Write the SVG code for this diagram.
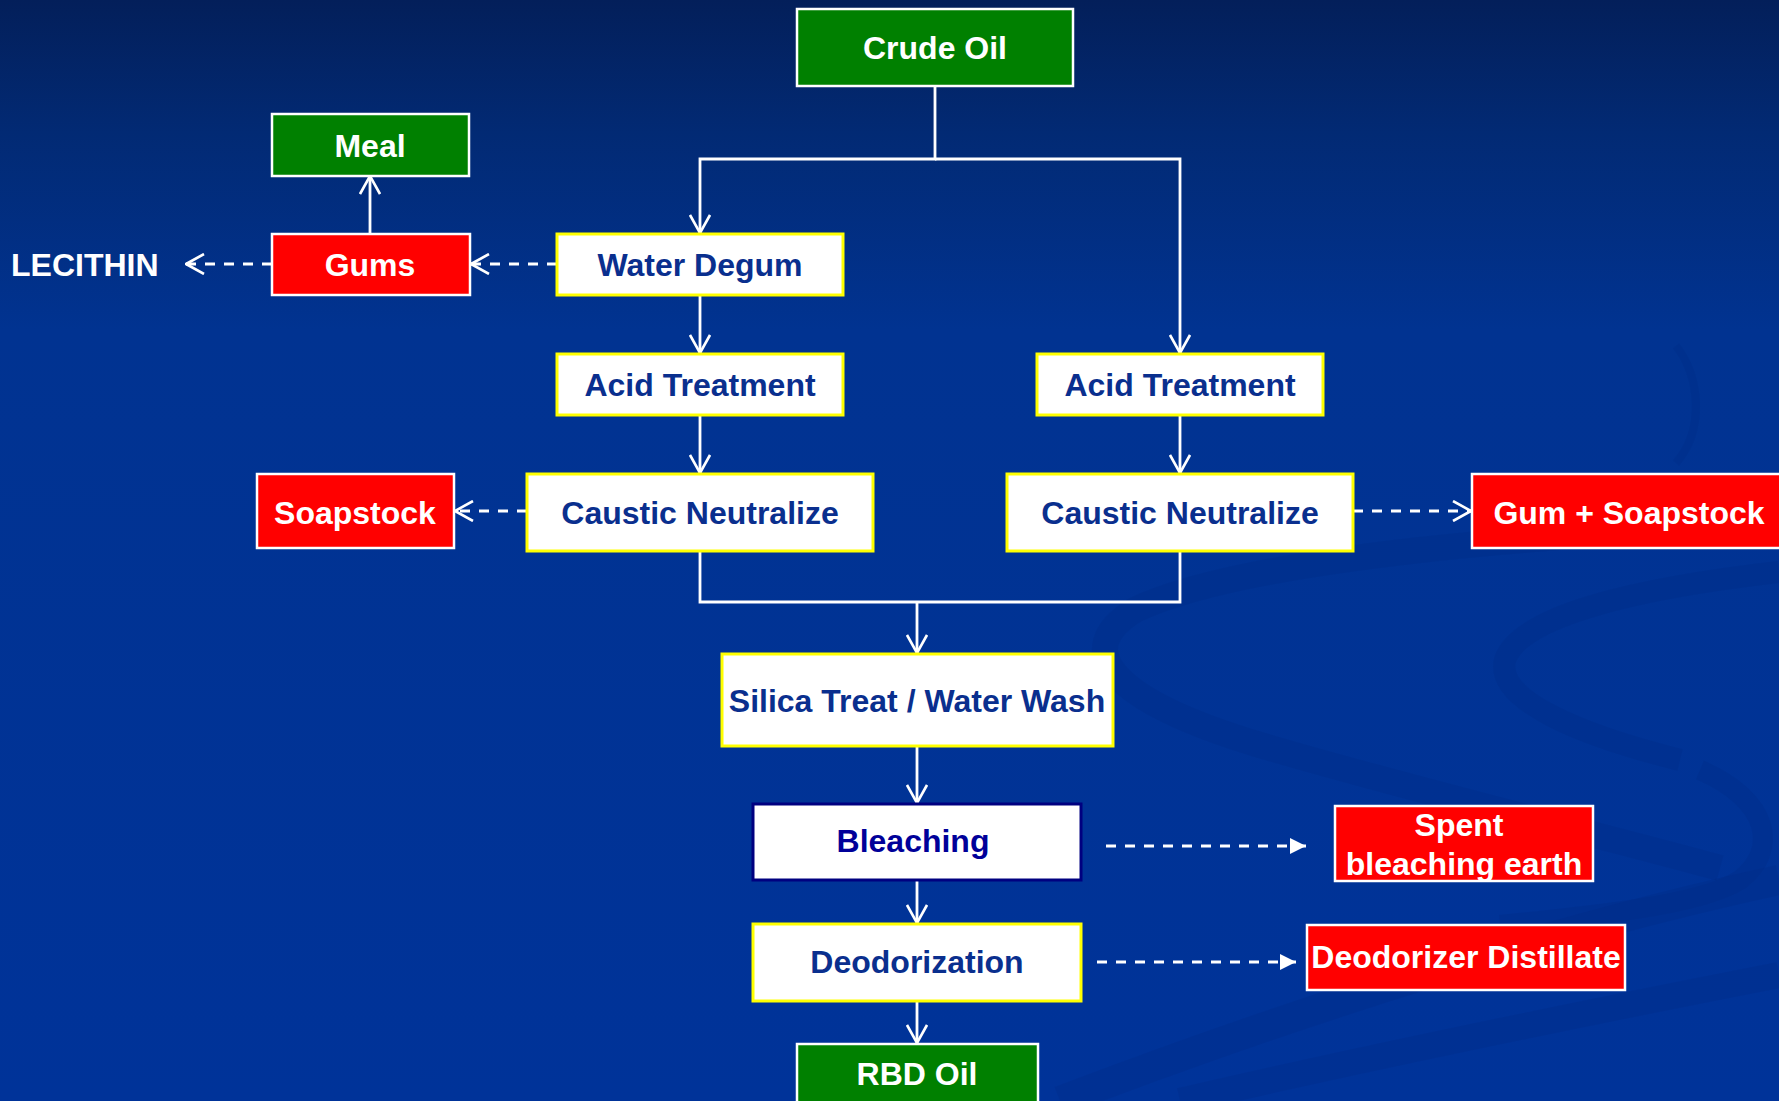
<svg xmlns="http://www.w3.org/2000/svg" width="1779" height="1101" viewBox="0 0 1779 1101">
<defs>
<linearGradient id="bg" x1="0" y1="0" x2="0" y2="1101" gradientUnits="userSpaceOnUse">
<stop offset="0" stop-color="#031f5a"/>
<stop offset="0.12" stop-color="#022a74"/>
<stop offset="0.3" stop-color="#013391"/>
<stop offset="1" stop-color="#003399"/>
</linearGradient>
<marker id="open" viewBox="0 0 20 22" refX="19" refY="11" markerWidth="20" markerHeight="22" markerUnits="userSpaceOnUse" orient="auto">
<path d="M1,1 L19,11 L1,21" fill="none" stroke="#ffffff" stroke-width="2.6"/>
</marker>
<marker id="tri" viewBox="0 0 16 16" refX="16" refY="8" markerWidth="16" markerHeight="16" markerUnits="userSpaceOnUse" orient="auto">
<path d="M0,0 L16,8 L0,16 z" fill="#ffffff"/>
</marker>
<style>
.t{font-family:"Liberation Sans",Arial,Helvetica,sans-serif;font-weight:bold;font-size:32px;text-anchor:middle}
.w{fill:#ffffff}
.b{fill:#0a2f8e}
.g{fill:#008000;stroke:#ffffff;stroke-width:2.5}
.r{fill:#ff0000;stroke:#ffffff;stroke-width:2.5}
.y{fill:#ffffff;stroke:#ffff00;stroke-width:3}
.c{fill:none;stroke:#ffffff;stroke-width:2.8}
.d{fill:none;stroke:#ffffff;stroke-width:2.8;stroke-dasharray:10 9}
.sw{fill:none;stroke:#00287e;stroke-opacity:0.22}
</style>
</defs>
<rect x="0" y="0" width="1779" height="1101" fill="url(#bg)"/>
<g id="swirls">
<path class="sw" stroke-width="26" d="M1779,522 C1560,535 1250,555 1135,610 C1070,650 1110,700 1260,745 C1420,792 1600,835 1720,868"/>
<path class="sw" stroke-width="22" d="M1779,572 C1640,588 1520,615 1505,660 C1495,700 1580,735 1680,760"/>
<path class="sw" stroke-width="20" d="M1700,770 C1770,800 1779,850 1740,880 C1700,905 1600,915 1500,925"/>
<path class="sw" stroke-width="30" d="M1060,1101 C1300,1010 1550,930 1779,880"/>
<path class="sw" stroke-width="26" d="M1180,1101 C1400,1050 1600,1010 1779,975"/>
<path class="sw" stroke-width="8" d="M1676,346 C1700,375 1705,430 1676,463"/>
</g>
<g id="connectors">
<path class="c" d="M935,86 V159 H700 V233" marker-end="url(#open)"/>
<path class="c" d="M935,159 H1180 V353" marker-end="url(#open)"/>
<path class="c" d="M700,295 V353" marker-end="url(#open)"/>
<path class="c" d="M700,415 V473" marker-end="url(#open)"/>
<path class="c" d="M1180,415 V473" marker-end="url(#open)"/>
<path class="c" d="M700,551 V602 H1180 V551"/>
<path class="c" d="M917,602 V653" marker-end="url(#open)"/>
<path class="c" d="M917,746 V803" marker-end="url(#open)"/>
<path class="c" d="M917,880 V923" marker-end="url(#open)"/>
<path class="c" d="M917,1001 V1043" marker-end="url(#open)"/>
<path class="c" d="M370,234 V176" marker-end="url(#open)"/>
<path class="d" d="M557,264 H471" marker-end="url(#open)"/>
<path class="d" d="M272,264 H186" marker-end="url(#open)"/>
<path class="d" d="M527,511 H455" marker-end="url(#open)"/>
<path class="d" d="M1353,511 H1471" marker-end="url(#open)"/>
<path class="d" d="M1106,846 H1306" marker-end="url(#tri)"/>
<path class="d" d="M1097,962 H1296" marker-end="url(#tri)"/>
</g>
<g id="crude-oil"><rect class="g" x="797" y="9" width="276" height="77"/><text class="t w" x="935" y="59">Crude Oil</text></g>
<g id="meal"><rect class="g" x="272" y="114" width="197" height="62"/><text class="t w" x="370" y="157">Meal</text></g>
<g id="gums"><rect class="r" x="272" y="234" width="198" height="61"/><text class="t w" x="370" y="276">Gums</text></g>
<g id="lecithin"><text class="t w" x="11" y="276" style="text-anchor:start">LECITHIN</text></g>
<g id="water-degum"><rect class="y" x="557" y="234" width="286" height="61"/><text class="t b" x="700" y="276">Water Degum</text></g>
<g id="acid-left"><rect class="y" x="557" y="354" width="286" height="61"/><text class="t b" x="700" y="396">Acid Treatment</text></g>
<g id="acid-right"><rect class="y" x="1037" y="354" width="286" height="61"/><text class="t b" x="1180" y="396">Acid Treatment</text></g>
<g id="caustic-left"><rect class="y" x="527" y="474" width="346" height="77"/><text class="t b" x="700" y="524">Caustic Neutralize</text></g>
<g id="caustic-right"><rect class="y" x="1007" y="474" width="346" height="77"/><text class="t b" x="1180" y="524">Caustic Neutralize</text></g>
<g id="soapstock"><rect class="r" x="257" y="474" width="197" height="74"/><text class="t w" x="355" y="524">Soapstock</text></g>
<g id="gum-soapstock"><rect class="r" x="1472" y="474" width="320" height="74"/><text class="t w" x="1629" y="524">Gum + Soapstock</text></g>
<g id="silica"><rect class="y" x="722" y="654" width="391" height="92"/><text class="t b" x="917" y="712">Silica Treat / Water Wash</text></g>
<g id="bleaching"><rect x="753" y="804" width="328" height="76" fill="#ffffff" stroke="#000080" stroke-width="3"/><text class="t" x="913" y="852" fill="#000099">Bleaching</text></g>
<g id="deodorization"><rect class="y" x="753" y="924" width="328" height="77"/><text class="t b" x="917" y="973">Deodorization</text></g>
<g id="rbd-oil"><rect class="g" x="797" y="1044" width="241" height="70"/><text class="t w" x="917" y="1085">RBD Oil</text></g>
<g id="spent"><rect class="r" x="1335" y="806" width="258" height="75"/><text class="t w" x="1459" y="836">Spent</text><text class="t w" x="1464" y="875">bleaching earth</text></g>
<g id="deodorizer-distillate"><rect class="r" x="1307" y="925" width="318" height="65"/><text class="t w" x="1466" y="968">Deodorizer Distillate</text></g>
</svg>
